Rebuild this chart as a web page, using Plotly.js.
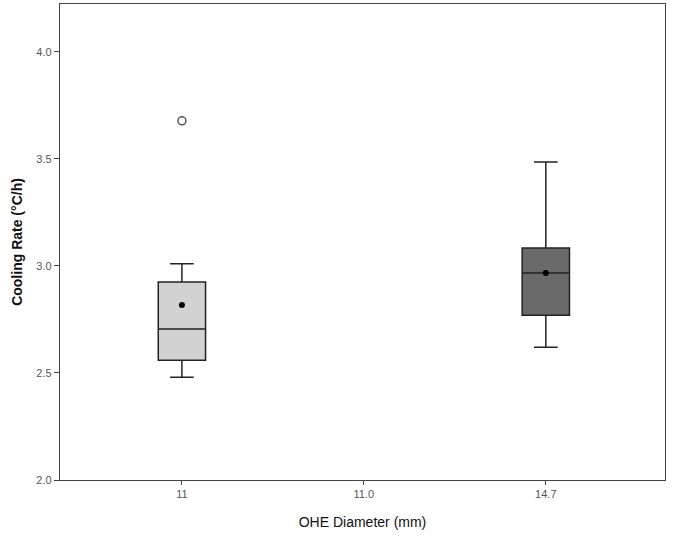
<!DOCTYPE html>
<html>
<head>
<meta charset="utf-8">
<script src="https://cdn.plot.ly/plotly-3.0.1.min.js"></script>
<style>html,body{margin:0;padding:0;background:#fff;}#chart{width:675px;height:543px;}</style>
</head>
<body>
<div id="chart"></div>
<script>
// Category tick labels on the x axis
const categories = ['11', '11.0', '14.7'];

// Box statistics (Cooling Rate, °C/h)
const boxGroups = ['11', '14.7'];
const lowerWhisker = [2.48, 2.62];
const q1Values = [2.56, 2.77];
const medianValues = [2.705, 2.967];
const q3Values = [2.925, 3.084];
const upperWhisker = [3.01, 3.486];
const meanValues = [2.818, 2.967];
const boxFills = ['#d2d2d2', '#6a6a6a'];

// Outliers
const outlierGroups = ['11'];
const outlierValues = [3.678];

const traces = [];
boxGroups.forEach((g, i) => {
  traces.push({
    type: 'box',
    x: [g],
    q1: [q1Values[i]],
    median: [medianValues[i]],
    q3: [q3Values[i]],
    lowerfence: [lowerWhisker[i]],
    upperfence: [upperWhisker[i]],
    boxpoints: false,
    width: 0.26,
    whiskerwidth: 0.5,
    fillcolor: boxFills[i],
    line: {color: '#222', width: 1.5},
    hoverinfo: 'skip',
    showlegend: false
  });
});
traces.push({
  type: 'scatter', mode: 'markers',
  x: boxGroups, y: meanValues,
  marker: {color: '#000', size: 6},
  showlegend: false, hoverinfo: 'skip'
});
traces.push({
  type: 'scatter', mode: 'markers',
  x: outlierGroups, y: outlierValues,
  marker: {color: '#555', size: 8, symbol: 'circle-open', line: {width: 1.5}},
  showlegend: false, hoverinfo: 'skip'
});

const layout = {
  width: 675, height: 543,
  margin: {l: 60, r: 10, t: 4, b: 63},
  paper_bgcolor: '#fff', plot_bgcolor: '#fff',
  font: {family: 'Liberation Sans, Arial, sans-serif', color: '#000'},
  xaxis: {
    type: 'category',
    categoryorder: 'array', categoryarray: categories,
    tickvals: categories, ticktext: categories,
    range: [-0.67, 2.655],
    showgrid: false, zeroline: false,
    showline: true, linecolor: '#444', linewidth: 1.2, mirror: true,
    ticks: 'outside', ticklen: 4, tickcolor: '#444', tickwidth: 1,
    tickfont: {size: 11, color: '#555'},
    title: {text: 'OHE Diameter (mm)', font: {size: 14, color: '#111'}, standoff: 17}
  },
  yaxis: {
    range: [2.0, 4.224],
    tickvals: [2.0, 2.5, 3.0, 3.5, 4.0],
    tickformat: '.1f',
    showgrid: false, zeroline: false,
    showline: true, linecolor: '#444', linewidth: 1.2, mirror: true,
    ticks: 'outside', ticklen: 5, tickcolor: '#444', tickwidth: 1,
    tickfont: {size: 11, color: '#555'},
    title: {text: '<b>Cooling Rate (°C/h)</b>', font: {size: 14, color: '#111'}, standoff: 10}
  }
};

Plotly.newPlot('chart', traces, layout, {displayModeBar: false, staticPlot: true});
</script>
</body>
</html>
